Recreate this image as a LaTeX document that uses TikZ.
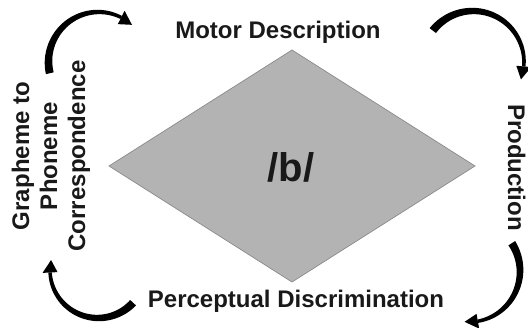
\documentclass[tikz,border=0pt]{standalone}
\usepackage{fontspec}
\setmainfont{Liberation Sans}
\usetikzlibrary{calc}
\tikzset{
  lbl/.style={font=\fontsize{24}{28}\selectfont\bfseries, inner sep=0pt, anchor=base, text=black!90},
  big/.style={font=\fontsize{40}{44}\selectfont\bfseries, inner sep=0pt, anchor=base, text=black!90},
  rhomb/.style={fill=diagray, draw=diaedge, line width=0.7pt, line join=miter},
  arrowfill/.style={fill=black}
}
\definecolor{diagray}{HTML}{B3B3B3}
\definecolor{diaedge}{HTML}{8A8A8A}
% #1 centre coordinate, #2 radius, #3 tail angle, #4 head base angle, #5 tip angle
\newcommand\cycarrow[5]{%
  \fill[arrowfill, shift={(#1)}]
    plot[variable=\t, domain=#3:#4, samples=40, smooth]
      ({(#2+(1.7+2.3*(\t-(#4))/((#3)-(#4))))*cos(\t)}, {(#2+(1.7+2.3*(\t-(#4))/((#3)-(#4))))*sin(\t)})
    -- plot[variable=\t, domain=#4:#3, samples=40, smooth]
      ({(#2-(1.7+2.3*(\t-(#4))/((#3)-(#4))))*cos(\t)}, {(#2-(1.7+2.3*(\t-(#4))/((#3)-(#4))))*sin(\t)})
    -- cycle;
  \fill[arrowfill, shift={(#1)}] ({#4}:{#2+7.5}) -- ({#5}:{#2}) -- ({#4}:{#2-7.5}) -- cycle;
}
\begin{document}
\begin{tikzpicture}[x=1pt,y=1pt]
\useasboundingbox (0,0) rectangle (528,328);
% diamond
\coordinate (dt) at (292,278);
\coordinate (dr) at (475,162);
\coordinate (db) at (292,46);
\coordinate (dl) at (109,162);
\filldraw[rhomb] (dt) -- (dr) -- (db) -- (dl) -- cycle;
\node[big] (b) at (291,146) {/b/};
% labels
\node[lbl] (motor) at (278,289) {Motor Description};
\node[lbl] (perc) at (296,20) {Perceptual Discrimination};
\node[lbl, rotate=90] (g1) at (29,172) {Grapheme to};
\node[lbl, rotate=90] (g2) at (57,172) {Phoneme};
\node[lbl, rotate=90] (g3) at (85,172) {Correspondence};
\node[lbl, rotate=-90] (prod) at (508,160.5) {Production};
% cycle arrows
\coordinate (c1) at (98.5,266);
\coordinate (c2) at (473,266);
\coordinate (c3) at (469,57);
\coordinate (c4) at (98,58);
\cycarrow{c1}{50}{193}{63}{48}
\cycarrow{c2}{51}{142}{-5}{-20}
\cycarrow{c3}{51}{33}{-80}{-95}
\cycarrow{c4}{48}{-43}{-177}{-192}
\end{tikzpicture}
\end{document}
